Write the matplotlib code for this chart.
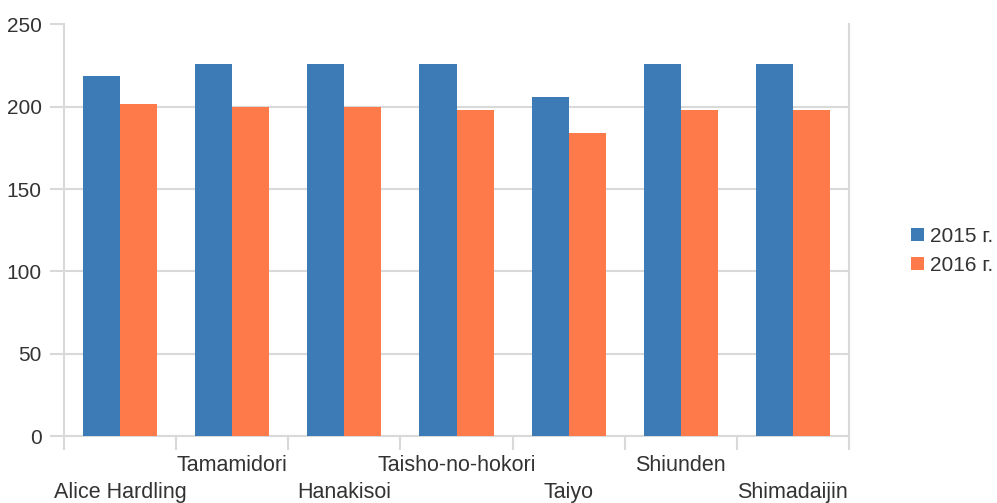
import numpy as np
import matplotlib
matplotlib.use("Agg")
from matplotlib import pyplot as plt

# chart data
varieties = ["Alice Hardling", "Tamamidori", "Hanakisoi", "Taisho-no-hokori",
             "Taiyo", "Shiunden", "Shimadaijin"]
y2015 = [219, 226, 226, 226, 206, 226, 226]
y2016 = [202, 200, 200, 198, 184, 198, 198]
series_names = ["2015 г.", "2016 г."]

blue = "#3d7bb6"
orange = "#ff7a4a"
grid_col = "#d9d9d9"
text_col = "#333333"

plt.rcParams["font.family"] = ["Liberation Sans", "DejaVu Sans"]

fig = plt.figure(figsize=(9.97, 5.03), dpi=100)
ax = fig.add_axes([64 / 997, 67 / 503, 785 / 997, 411.5 / 503])

x = np.arange(len(varieties))
w = 0.33
b1 = ax.bar(x - w / 2, y2015, width=w, color=blue, label=series_names[0], zorder=3)
b2 = ax.bar(x + w / 2, y2016, width=w, color=orange, label=series_names[1], zorder=3)

ax.set_xlim(-0.5, len(varieties) - 0.5)
ax.set_ylim(0, 250)
ax.set_yticks([0, 50, 100, 150, 200, 250])
ax.yaxis.grid(True, color=grid_col, linewidth=1.5, zorder=0)
ax.tick_params(axis="y", length=10, width=1.5, color=grid_col, pad=6,
               labelsize=15, labelcolor=text_col)

# category boundaries as tick marks, names staggered on two rows
ax.set_xticks(np.arange(-0.5, len(varieties)), labels=[])
ax.tick_params(axis="x", which="major", length=10, width=1.5, color=grid_col)
labels = [("\n" + n) if i % 2 == 0 else n for i, n in enumerate(varieties)]
ax.set_xticks(x, labels=labels, minor=True)
ax.tick_params(axis="x", which="minor", length=0, pad=14, labelsize=15.5,
               labelcolor=text_col)
for t in ax.get_xticklabels(minor=True):
    t.set_linespacing(1.33)

for side in ["left", "right", "bottom"]:
    ax.spines[side].set_color(grid_col)
    ax.spines[side].set_linewidth(1.5)
ax.spines["top"].set_visible(False)

leg = fig.legend(handles=[b1, b2], loc="center left",
                 bbox_to_anchor=(901 / 997, 1 - 251 / 503), frameon=False,
                 fontsize=15, handlelength=0.6, handleheight=0.6,
                 handletextpad=0.3, labelspacing=0.5, borderpad=0)
for t in leg.get_texts():
    t.set_color(text_col)

fig.savefig("out.png", dpi=100)
